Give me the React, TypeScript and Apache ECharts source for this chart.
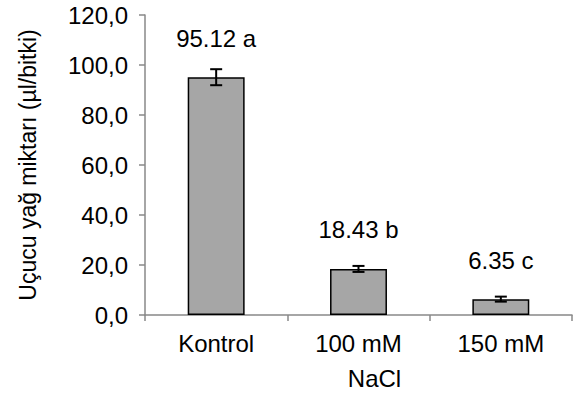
import React, { useEffect, useRef } from "react";
import * as echarts from "echarts";

const categories = ["Kontrol", "100 mM", "150 mM"];
const values = [95.12, 18.43, 6.35];
const errors = [3.2, 1.2, 1.0];
const letters = ["a", "b", "c"];
const yTicks = [0, 20, 40, 60, 80, 100, 120];

const FONT = "'Liberation Sans', Arial, sans-serif";
const FS = 24;

export default function App() {
  const ref = useRef<HTMLDivElement>(null);
  useEffect(() => {
    document.body.style.margin = "0";
    const chart = echarts.init(ref.current!, null, { renderer: "svg" });
    chart.setOption({
      animation: false,
      backgroundColor: "#ffffff",
      textStyle: { fontFamily: FONT },
      grid: { left: 145, right: 3, top: 15, bottom: 82 },
      xAxis: {
        type: "category",
        data: categories,
        name: "NaCl",
        nameLocation: "middle",
        nameGap: 51,
        nameTextStyle: { fontSize: FS, color: "#000", fontFamily: FONT, padding: [0, 0, 0, 32] },
        axisLine: { lineStyle: { color: "#888", width: 1.5 } },
        axisTick: { show: true, length: 6, lineStyle: { color: "#888", width: 1.5 } },
        axisLabel: { fontSize: FS, color: "#000", margin: 16, fontFamily: FONT },
      },
      yAxis: {
        type: "value",
        min: 0,
        max: 120,
        interval: 20,
        name: "Uçucu yağ miktarı (µl/bitki)",
        nameLocation: "middle",
        nameGap: 106,
        nameTextStyle: { fontSize: 23, color: "#000", fontFamily: FONT },
        splitLine: { show: false },
        axisLine: { show: true, lineStyle: { color: "#888", width: 1.5 } },
        axisTick: { show: true, length: 6, lineStyle: { color: "#888", width: 1.5 } },
        axisLabel: {
          fontSize: FS,
          color: "#000",
          margin: 17,
          fontFamily: FONT,
          formatter: (v: number) => (yTicks.includes(v) ? v.toFixed(1).replace(".", ",") : ""),
        },
      },
      series: [
        {
          type: "bar",
          data: values,
          barWidth: "40%",
          itemStyle: { color: "#a6a6a6", borderColor: "#000", borderWidth: 1.5 },
          label: {
            show: true,
            position: "top",
            distance: 27,
            fontSize: FS,
            color: "#000",
            fontFamily: FONT,
            formatter: (p: any) => `${values[p.dataIndex]} ${letters[p.dataIndex]}`,
          },
        },
        {
          type: "custom",
          data: values.map((v, i) => [i, v - errors[i], v + errors[i]]),
          z: 10,
          renderItem: (params: any, api: any) => {
            const x = api.value(0);
            const lo = api.coord([x, api.value(1)]);
            const hi = api.coord([x, api.value(2)]);
            const hw = 6;
            const style = { stroke: "#000", lineWidth: 2, fill: "none" };
            return {
              type: "group",
              children: [
                { type: "line", shape: { x1: lo[0], y1: lo[1], x2: hi[0], y2: hi[1] }, style },
                { type: "line", shape: { x1: hi[0] - hw, y1: hi[1], x2: hi[0] + hw, y2: hi[1] }, style },
                { type: "line", shape: { x1: lo[0] - hw, y1: lo[1], x2: lo[0] + hw, y2: lo[1] }, style },
              ],
            };
          },
        },
      ],
    });
    return () => chart.dispose();
  }, []);
  return <div ref={ref} style={{ width: 575, height: 397 }} />;
}
